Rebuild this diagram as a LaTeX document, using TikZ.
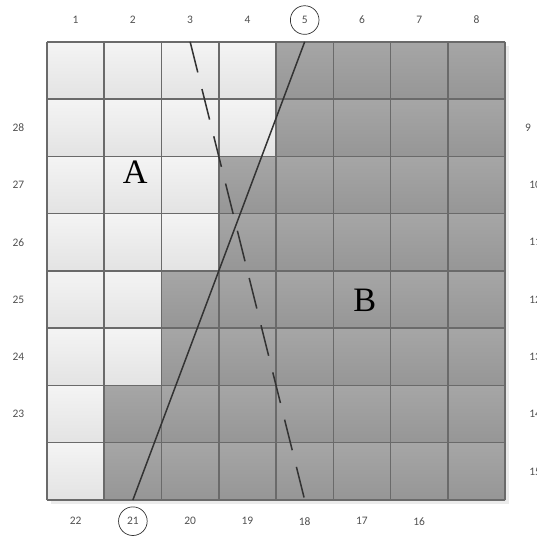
\documentclass[tikz,border=0pt]{standalone}
\usepackage{fontspec}
\newfontfamily\numfont{Carlito}
\newfontfamily\regionfont{Liberation Serif}
\definecolor{cellline}{HTML}{6A6A6A}
\definecolor{lighttop}{HTML}{F4F4F4}
\definecolor{lightbot}{HTML}{E3E3E3}
\definecolor{darktop}{HTML}{A6A6A6}
\definecolor{darkbot}{HTML}{969696}
\definecolor{numgray}{HTML}{505050}
\begin{document}
\begin{tikzpicture}[
    lightcell/.style={top color=lighttop, bottom color=lightbot},
    darkcell/.style={top color=darktop, bottom color=darkbot},
    num/.style={font=\numfont\fontsize{5.7}{6}\selectfont, text=numgray, inner sep=1pt},
    marked/.style={num, draw=black!80, circle, minimum size=0.5cm, line width=0.35pt},
    region/.style={font=\regionfont\fontsize{17}{17}\selectfont},
    cut/.style={draw=black!80, line width=0.75pt}
  ]
  \useasboundingbox (-0.82,-0.646) rectangle (8.55,8.73);

  % shadow of the board
  \fill[black!8] (0.07,-0.07) rectangle (8.07,7.93);

  % cells: row 1 is the top row
  \foreach \r/\n in {1/4,2/4,3/3,4/3,5/2,6/2,7/1,8/1}{
    \pgfmathtruncatemacro\yb{8-\r}
    \pgfmathtruncatemacro\m{\n+1}
    \foreach \c in {1,...,\n}
      \fill[lightcell] (\c-1,\yb) rectangle (\c,\yb+1);
    \foreach \c in {\m,...,8}
      \fill[darkcell] (\c-1,\yb) rectangle (\c,\yb+1);
  }
  \draw[cellline, line width=0.75pt] (0,0) grid (8,8);

  % numbers round the board
  \foreach \c in {1,2,3,4,6,7,8}
    \node[num] (top\c) at (\c-0.5,8.38) {\c};
  \node[marked] (top5) at (4.5,8.38) {5};
  \foreach \c/\t in {1/22,3/20,4/19,5/18,6/17,7/16}
    \node[num] (bot\t) at (\c-0.5,-0.37) {\t};
  \node[marked] (bot21) at (1.5,-0.37) {21};
  \foreach \t/\y in {28/6.5,27/5.5,26/4.5,25/3.5,24/2.5,23/1.5}
    \node[num] (left\t) at (-0.5,\y) {\t};
  \node[num] (right9) at (8.4,6.5) {9};
  \foreach \t/\y in {10/5.5,11/4.5,12/3.5,13/2.5,14/1.5,15/0.5}
    \node[num, anchor=west] (right\t) at (8.38,\y) {\t};

  % region names
  \node[region] (A) at (1.54,5.72) {A};
  \node[region] (B) at (5.55,3.49) {B};

  % the two cuts
  \coordinate (solidtop) at (4.5,8);
  \coordinate (solidbot) at (1.5,0);
  \coordinate (dashtop) at (2.5,8);
  \coordinate (dashbot) at (4.5,0);
  \draw[cut] (solidtop) -- (solidbot);
  \draw[cut, dash pattern=on 0.55cm off 0.3cm] (dashtop) -- (dashbot);
\end{tikzpicture}
\end{document}
